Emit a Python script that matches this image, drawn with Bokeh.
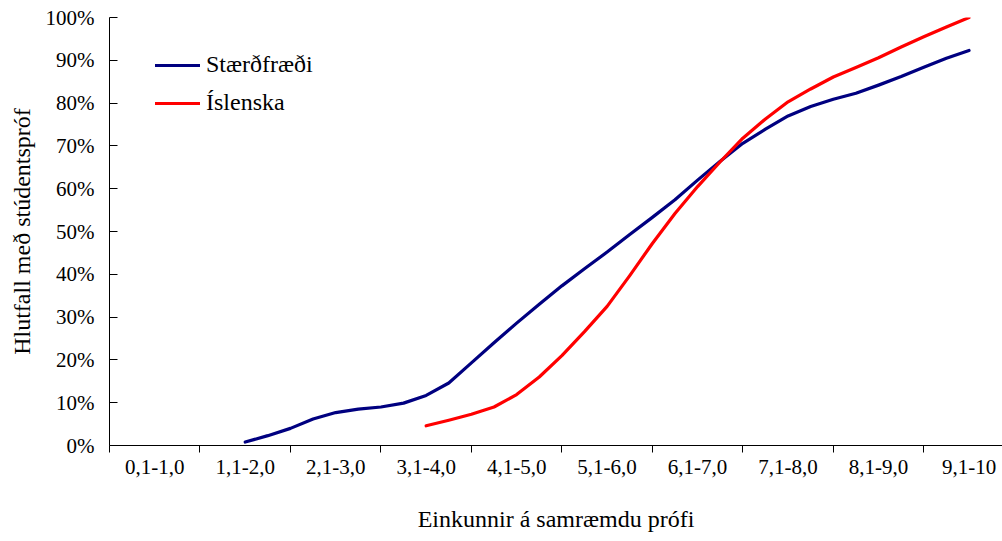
from bokeh.plotting import figure
from bokeh.models import FixedTicker, PrintfTickFormatter, Range1d, Legend, LegendItem
from bokeh.embed import file_html
from bokeh.resources import INLINE

# Categories (grade intervals) on the x axis
categories = ["0,1-1,0", "1,1-2,0", "2,1-3,0", "3,1-4,0", "4,1-5,0",
              "5,1-6,0", "6,1-7,0", "7,1-8,0", "8,1-9,0", "9,1-10"]
category_centers = [i + 0.5 for i in range(len(categories))]
category_bounds = list(range(len(categories) + 1))

y_ticks = [0, 10, 20, 30, 40, 50, 60, 70, 80, 90, 100]

# Stærðfræði (mathematics), position in category units, value in %
math_x = [1.5, 1.75, 2.0, 2.25, 2.5, 2.75, 3.0, 3.25, 3.5, 3.75, 4.0, 4.25, 4.5,
          4.75, 5.0, 5.25, 5.5, 5.75, 6.0, 6.25, 6.5, 6.75, 7.0, 7.25, 7.5,
          7.75, 8.0, 8.25, 8.5, 8.75, 9.0, 9.25, 9.5]
math_y = [0.8, 2.3, 4.0, 6.2, 7.7, 8.5, 9.0, 9.9, 11.7, 14.6, 19.3, 24.0, 28.6,
          33.0, 37.3, 41.3, 45.2, 49.3, 53.3, 57.4, 62.0, 66.4, 70.6, 73.9, 77.0,
          79.2, 80.9, 82.3, 84.2, 86.2, 88.4, 90.5, 92.3]

# Íslenska (Icelandic)
isl_x = [3.5, 3.75, 4.0, 4.25, 4.5, 4.75, 5.0, 5.25, 5.5, 5.75, 6.0, 6.25, 6.5,
         6.75, 7.0, 7.25, 7.5, 7.75, 8.0, 8.25, 8.5, 8.75, 9.0, 9.25, 9.5]
isl_y = [4.6, 5.9, 7.3, 9.0, 11.9, 16.0, 21.0, 26.6, 32.5, 39.7, 47.2, 54.2, 60.5,
         66.3, 71.8, 76.3, 80.3, 83.3, 86.1, 88.3, 90.6, 93.1, 95.5, 97.8, 100.0]

FONT = "Liberation Serif"

p = figure(width=1002, height=541, output_backend="svg", toolbar_location=None,
           x_range=Range1d(0, 9.87), y_range=Range1d(0, 100),
           min_border_left=109, min_border_right=0, min_border_top=17,
           min_border_bottom=96)
p.outline_line_color = None
p.background_fill_color = "white"
p.border_fill_color = "white"

# grid: only the top border line of the plot area
p.xgrid.visible = False
p.ygrid.ticker = FixedTicker(ticks=[100])
p.ygrid.grid_line_color = "#808080"
p.ygrid.grid_line_width = 1

# x axis
xa = p.xaxis[0]
xa.ticker = FixedTicker(ticks=category_centers, minor_ticks=category_bounds)
xa.major_label_overrides = {c: lab for c, lab in zip(category_centers, categories)}
xa.major_tick_line_color = None
xa.major_tick_out = 0
xa.major_tick_in = 0
xa.minor_tick_line_color = "black"
xa.minor_tick_out = 7
xa.minor_tick_in = 0
xa.axis_line_color = "black"
xa.axis_line_width = 1
xa.major_label_standoff = 7
xa.major_label_text_font = FONT
xa.major_label_text_font_size = "21px"
xa.major_label_text_color = "black"
xa.axis_label = "Einkunnir á samræmdu prófi"
xa.axis_label_text_font = FONT
xa.axis_label_text_font_size = "24px"
xa.axis_label_text_font_style = "normal"
xa.axis_label_text_color = "black"
xa.axis_label_standoff = 29

# y axis
ya = p.yaxis[0]
ya.ticker = FixedTicker(ticks=y_ticks, minor_ticks=[])
ya.formatter = PrintfTickFormatter(format="%d%%")
ya.major_tick_line_color = "black"
ya.major_tick_in = 8
ya.major_tick_out = 0
ya.minor_tick_line_color = None
ya.axis_line_color = "black"
ya.major_label_standoff = 15
ya.major_label_text_font = FONT
ya.major_label_text_font_size = "21px"
ya.major_label_text_color = "black"
ya.axis_label = "Hlutfall með stúdentspróf"
ya.axis_label_text_font = FONT
ya.axis_label_text_font_size = "24px"
ya.axis_label_text_font_style = "normal"
ya.axis_label_text_color = "black"
ya.axis_label_standoff = 8

r_math = p.line(math_x, math_y, line_color="#000080", line_width=3.2,
                line_join="round", line_cap="round")
r_isl = p.line(isl_x, isl_y, line_color="#FF0000", line_width=3.2,
               line_join="round", line_cap="round")

legend = Legend(items=[LegendItem(label="Stærðfræði", renderers=[r_math]),
                       LegendItem(label="Íslenska", renderers=[r_isl])],
                location=(46, 329))
legend.label_text_font = FONT
legend.label_text_font_size = "24px"
legend.label_text_color = "black"
legend.glyph_width = 45
legend.glyph_height = 20
legend.spacing = 11
legend.label_standoff = 6
legend.padding = 0
legend.margin = 0
legend.border_line_color = None
legend.background_fill_alpha = 0
p.add_layout(legend, "center")

open("out.html", "w").write(file_html(p, INLINE))
